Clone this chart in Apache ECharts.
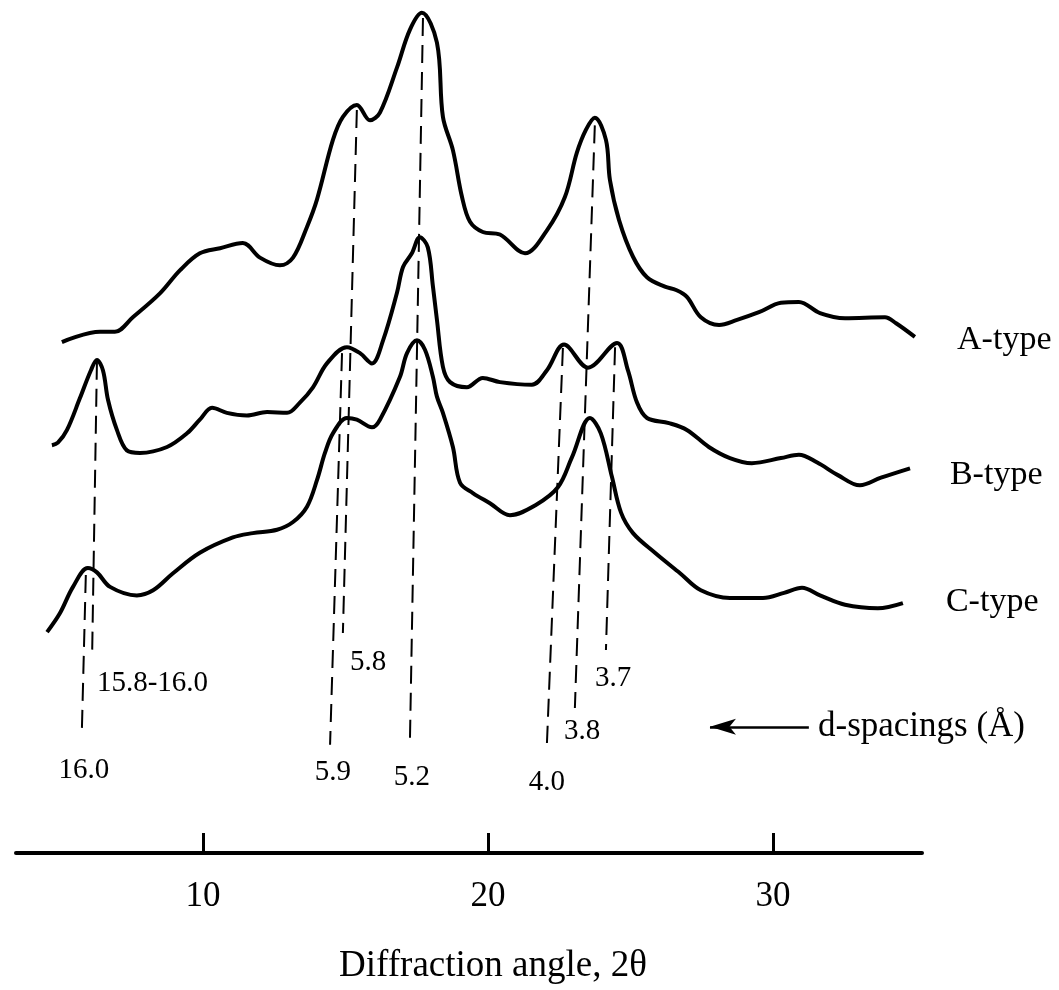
<!DOCTYPE html>
<html>
<head>
<meta charset="utf-8">
<title>Starch X-ray diffraction patterns</title>
<script src="https://cdn.jsdelivr.net/npm/echarts@6/dist/echarts.min.js"></script>
<style>
  html, body { margin: 0; padding: 0; background: #fff; }
  #chart { width: 1059px; height: 990px; }
</style>
</head>
<body>
<div id="chart"></div>
<script>
// [2θ (deg), intensity] - curves are stacked with an offset, arbitrary units
const aType = [
  [5.05, 59.9], [6.39, 61.1], [6.91, 61.1], [7.54, 62.8], [8.49, 65.6], [9.19, 68.3],
  [9.89, 70.3], [10.6, 70.9], [11.4, 71.5], [12.0, 69.8], [12.7, 68.9], [13.16, 69.8],
  [13.65, 73.4], [14.0, 76.6], [14.56, 83.6], [14.91, 86.3], [15.4, 87.7], [15.86, 85.9],
  [16.21, 86.8], [16.81, 92.1], [17.26, 96.5], [17.68, 98.5], [18.21, 95.0], [18.42, 86.3],
  [18.77, 82.4], [19.09, 76.9], [19.37, 74.0], [19.82, 72.8], [20.42, 72.5], [21.3, 70.3],
  [22.07, 73.0], [22.7, 76.9], [23.12, 82.1], [23.44, 84.8], [23.75, 86.2], [24.14, 83.6],
  [24.28, 78.9], [24.6, 74.2], [25.09, 69.9], [25.58, 67.5], [26.21, 66.4], [26.6, 66.0],
  [26.98, 65.2], [27.47, 62.8], [28.11, 61.9], [28.74, 62.5], [29.51, 63.4], [30.28, 64.5],
  [30.91, 64.6], [31.65, 63.3], [32.53, 62.7], [33.93, 62.8], [34.32, 62.1], [34.98, 60.5]
]

const bType = [
  [4.7, 47.8], [4.91, 48.1], [5.23, 49.6], [5.68, 53.3], [6.07, 56.6], [6.28, 57.8],
  [6.49, 56.6], [6.67, 53.1], [6.98, 49.6], [7.33, 47.2], [7.79, 46.9], [8.74, 47.6],
  [9.44, 49.2], [9.89, 50.8], [10.32, 52.2], [10.84, 51.6], [11.54, 51.3], [12.25, 51.7],
  [12.95, 51.6], [13.4, 52.8], [13.86, 54.6], [14.35, 57.4], [15.05, 59.3], [15.51, 58.6],
  [15.93, 57.4], [16.32, 60.1], [16.81, 65.7], [17.02, 68.7], [17.33, 70.3], [17.61, 72.2],
  [17.89, 71.0], [18.07, 66.4], [18.21, 62.5], [18.42, 57.0], [18.67, 55.2], [19.26, 54.6],
  [19.82, 55.7], [20.42, 55.2], [21.54, 54.9], [22.07, 56.6], [22.67, 59.6], [23.51, 56.9],
  [24.53, 59.8], [24.91, 56.6], [25.23, 52.8], [25.58, 51.0], [26.35, 50.4], [26.98, 49.6],
  [27.75, 47.6], [28.49, 46.3], [29.26, 45.7], [30.28, 46.3], [30.91, 46.7], [31.54, 45.8],
  [32.28, 44.3], [33.05, 43.1], [33.79, 44.0], [34.81, 45.1]
]

const cType = [
  [4.53, 25.9], [4.98, 28.1], [5.44, 31.2], [5.96, 33.4], [6.28, 32.9], [6.74, 31.2],
  [7.68, 30.2], [8.25, 30.8], [8.95, 32.8], [9.89, 35.2], [11.05, 37.0], [11.75, 37.5],
  [12.6, 37.9], [13.16, 38.8], [13.65, 40.6], [14.0, 43.7], [14.28, 46.9], [14.56, 49.2],
  [15.05, 51.0], [15.4, 50.8], [15.93, 49.9], [16.21, 50.8], [16.91, 55.8], [17.16, 58.6],
  [17.51, 60.1], [17.79, 59.0], [18.07, 55.8], [18.21, 53.5], [18.42, 51.6], [18.77, 47.6],
  [19.02, 43.4], [19.47, 42.2], [20.07, 41.0], [20.77, 39.6], [21.68, 40.8], [22.46, 42.9],
  [22.95, 46.4], [23.58, 51.0], [23.96, 49.2], [24.35, 44.1], [24.67, 39.9], [25.09, 37.5],
  [25.86, 35.2], [26.74, 32.8], [27.47, 30.8], [28.49, 29.9], [29.65, 29.9], [30.39, 30.5],
  [31.02, 31.1], [31.65, 30.2], [32.53, 29.1], [33.68, 28.7], [34.56, 29.3]
]

const typeNames = ['A-type', 'B-type', 'C-type']
const typeLabelAt = [[36.46, 60.1], [36.21, 44.3], [36.07, 29.4]]

// d-spacing guide lines: [2θ top, value top, 2θ bottom, value bottom]
const dLines = [
  [6.28, 57.6, 6.11, 23.0],
  [5.89, 32.6, 5.75, 14.2],
  [14.88, 58.6, 14.46, 12.7],
  [15.4, 87.1, 14.91, 25.8],
  [17.72, 97.9, 17.26, 12.7],
  [22.63, 59.2, 22.07, 12.9],
  [23.75, 85.3, 23.05, 17.0],
  [24.46, 59.3, 24.14, 23.8]
]
const dLabels = ['15.8-16.0', '16.0', '5.9', '5.8', '5.2', '4.0', '3.8', '3.7']
const dLabelAt = [[6.28, 19.9], [5.82, 9.7], [14.56, 9.4], [15.16, 22.4], [17.33, 8.9], [22.07, 8.3], [23.3, 14.2], [24.39, 20.5]]
const dLabelLeft = [true, false, false, true, false, false, false, false]

const xTicks = [10, 20, 30]
const arrowFrom = [31.26, 14.8]
const arrowTo = [27.79, 14.8]
const arrowText = 'd-spacings (Å)'
const arrowTextAt = [31.58, 14.8]

const font = '"Liberation Serif", "Times New Roman", serif'
const chart = echarts.init(document.getElementById('chart'))

function curve(name, data) {
  return {
    name: name,
    type: 'line',
    data: data,
    smooth: 0.35,
    symbol: 'none',
    silent: true,
    lineStyle: { color: '#000', width: 4 }
  }
}

chart.setOption({
  animation: false,
  backgroundColor: '#fff',
  grid: { left: 16, top: 0, width: 906, height: 853, outerBoundsMode: 'none' },
  xAxis: {
    type: 'value',
    min: 3.44,
    max: 35.23,
    axisLine: { show: true, onZero: false, lineStyle: { color: '#000', width: 4 } },
    axisTick: { show: true, inside: true, length: 20, customValues: xTicks, lineStyle: { color: '#000', width: 3 } },
    axisLabel: { customValues: xTicks, margin: 26, color: '#000', fontFamily: font, fontSize: 35 },
    splitLine: { show: false },
    name: 'Diffraction angle, 2θ',
    nameLocation: 'middle',
    nameGap: 95,
    nameTextStyle: { color: '#000', fontFamily: font, fontSize: 37, padding: [0, 0, 0, 48] }
  },
  yAxis: { type: 'value', min: 0, max: 100, show: false },
  series: [
    curve('A-type', aType),
    curve('B-type', bType),
    curve('C-type', cType),
    {
      // dashed d-spacing guides and the arrow
      type: 'line',
      data: [],
      silent: true,
      markLine: {
        silent: true,
        animation: false,
        symbol: ['none', 'none'],
        label: { show: false },
        lineStyle: { color: '#000', width: 2, type: [18, 9] },
        data: dLines.map(function (d) {
          return [{ coord: [d[0], d[1]] }, { coord: [d[2], d[3]] }]
        }).concat([[
          { coord: arrowFrom, symbol: 'none', lineStyle: { type: 'solid', width: 2.5 } },
          { coord: arrowTo, symbol: 'arrow', symbolSize: [12, 26] }
        ]])
      }
    },
    {
      type: 'scatter',
      clip: false,
      silent: true,
      symbolSize: 1,
      itemStyle: { color: 'rgba(0,0,0,0)', opacity: 1 },
      label: { show: true, position: 'inside', align: 'left', formatter: '{b}', color: '#000', textBorderWidth: 0, fontFamily: font, fontSize: 34 },
      data: typeNames.map(function (n, i) {
        return { name: n, value: typeLabelAt[i] }
      }).concat([{ name: arrowText, value: arrowTextAt, label: { fontSize: 35 } }])
    },
    {
      type: 'scatter',
      clip: false,
      silent: true,
      symbolSize: 1,
      itemStyle: { color: 'rgba(0,0,0,0)', opacity: 1 },
      label: { show: true, position: 'inside', formatter: '{b}', color: '#000', textBorderWidth: 0, fontFamily: font, fontSize: 29 },
      data: dLabels.map(function (n, i) {
        return { name: n, value: dLabelAt[i], label: { align: dLabelLeft[i] ? 'left' : 'center' } }
      })
    }
  ]
})
</script>
</body>
</html>
